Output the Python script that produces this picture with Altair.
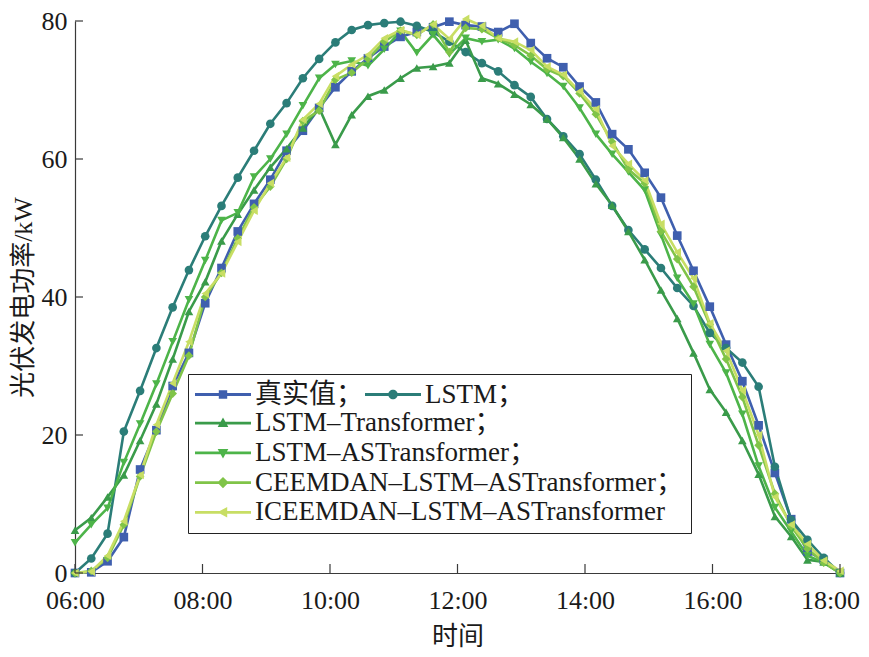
import altair as alt
import pandas as pd

# ---------------- data ----------------
series_names = [
    "真实值",
    "LSTM",
    "LSTM–Transformer",
    "LSTM–ASTransformer",
    "CEEMDAN–LSTM–ASTransformer",
    "ICEEMDAN–LSTM–ASTransformer",
]
series_colors = ["#3f5fae", "#2b7d78", "#3a9b4a", "#4db449", "#80c448", "#c8de64"]
series_shapes = ["square", "circle", "triangle-up", "triangle-down", "diamond", "triangle-left"]

n_points = 48
times = [6 + 12 * i / (n_points - 1) for i in range(n_points)]  # hours, 06:00 .. 18:00

true_vals = [0, 0.1, 1.7, 5.2, 15.0, 20.7, 27.1, 31.9, 39.1, 44.2, 49.5, 53.5, 57.0, 61.2,
             64.1, 67.4, 70.4, 72.7, 74.6, 76.3, 77.7, 78.4, 79.1, 79.9, 79.4, 79.2, 78.4,
             79.6, 76.8, 74.6, 73.3, 70.5, 68.2, 63.6, 61.4, 58.0, 54.4, 48.9, 43.8, 38.6,
             33.1, 27.8, 21.4, 14.5, 7.8, 3.1, 1.9, 0]
lstm_vals = [0, 2.1, 5.7, 20.5, 26.4, 32.6, 38.5, 43.9, 48.8, 53.2, 57.3, 61.2, 65.1, 68.1,
             71.7, 74.5, 76.9, 78.7, 79.4, 79.7, 79.9, 79.3, 78.4, 77.0, 75.5, 73.9, 72.7,
             70.7, 69.0, 65.8, 63.3, 60.7, 57.0, 53.2, 49.7, 46.9, 44.2, 41.3, 38.7, 34.8,
             32.6, 30.5, 27.0, 15.4, 7.7, 4.8, 2.2, 0]
lstm_t_vals = [6.2, 8.0, 11.0, 14.2, 19.2, 24.5, 31.0, 37.9, 42.2, 48.1, 52.0, 55.5, 58.8,
               61.5, 64.5, 67.4, 62.1, 66.4, 69.1, 70.0, 71.7, 73.2, 73.4, 73.9, 77.2, 71.7,
               70.9, 69.4, 67.9, 65.8, 63.1, 60.0, 56.4, 53.3, 49.5, 45.4, 41.0, 36.9, 31.9,
               26.6, 23.3, 19.2, 14.3, 8.2, 5.3, 1.9, 1.6, 0]
lstm_ast_vals = [4.4, 7.0, 9.4, 16.0, 21.6, 27.4, 33.5, 39.6, 45.3, 51.1, 52.2, 57.4, 60.0,
                 63.6, 67.7, 71.7, 73.7, 74.2, 73.5, 75.9, 78.5, 75.4, 78.0, 75.2, 77.5, 77.0,
                 77.3, 76.0, 74.1, 72.4, 70.5, 67.4, 63.6, 60.7, 58.1, 55.5, 49.0, 42.7, 39.0,
                 33.1, 29.0, 23.0, 15.5, 9.5, 6.0, 2.5, 1.5, 0]
ceemdan_vals = [0, 0.3, 2.2, 7.0, 14.0, 20.5, 26.0, 31.5, 40.0, 43.5, 48.5, 53.0, 56.0, 60.0,
                65.5, 67.0, 71.5, 72.5, 74.5, 77.0, 78.6, 78.0, 79.5, 75.5, 79.0, 78.8, 77.5,
                76.5, 75.0, 73.0, 72.0, 69.5, 66.5, 62.5, 58.5, 56.5, 49.5, 45.5, 41.5, 36.0,
                31.0, 25.5, 18.5, 11.5, 6.8, 3.5, 1.5, 0]
iceemdan_vals = [0, 0.2, 2.5, 7.5, 14.2, 21.5, 27.5, 33.5, 40.5, 43.4, 48.0, 52.5, 56.5, 60.2,
                 65.7, 68.0, 72.0, 73.7, 75.1, 77.5, 78.7, 78.0, 79.5, 77.4, 80.3, 79.3, 77.5,
                 77.0, 75.8, 73.4, 72.2, 69.8, 67.2, 61.9, 59.3, 56.9, 50.6, 46.5, 42.7, 36.2,
                 32.2, 26.5, 20.0, 11.0, 7.0, 4.2, 1.8, 0.3]

all_vals = [true_vals, lstm_vals, lstm_t_vals, lstm_ast_vals, ceemdan_vals, iceemdan_vals]

x_ticks = [6, 8, 10, 12, 14, 16, 18]
y_ticks = [0, 20, 40, 60, 80]

rows = []
for name, vals in zip(series_names, all_vals):
    for t, v in zip(times, vals):
        rows.append({"time": t, "power": v, "series": name})
df = pd.DataFrame(rows)

# ---------------- style ----------------
W, H = 765, 552
LATIN = "Liberation Serif, Noto Sans CJK SC"
AXIS_COLOR = "#3a3a3a"
FS = 26
LEG_FS = 27

# legend symbols: a short line with the marker in the middle (unit coordinates)
LINE = "M-1,-0.05H1V0.05H-1Z"
legend_paths = [
    LINE + "M-0.15,-0.15H0.15V0.15H-0.15Z",
    LINE + "M0.17,0A0.17,0.17,0,1,1,-0.17,0A0.17,0.17,0,1,1,0.17,0Z",
    LINE + "M0,-0.2L0.19,0.14H-0.19Z",
    LINE + "M0,0.2L-0.19,-0.14H0.19Z",
    LINE + "M0,-0.2L0.2,0L0,0.2L-0.2,0Z",
    LINE + "M-0.2,0L0.15,-0.19V0.19Z",
]

x_scale = alt.Scale(domain=[6, 18], nice=False, zero=False)
y_scale = alt.Scale(domain=[0, 80], nice=False)

x_axis = alt.Axis(values=x_ticks, title="时间",
                  labelExpr="(datum.value < 10 ? '0' : '') + datum.value + ':00'",
                  labelFlush=False, labelOverlap=False,
                  labelOffset={"condition": {"test": "datum.value == 18", "value": -10}, "value": 0},
                  labelPadding=14, titlePadding=10)
y_axis = alt.Axis(values=y_ticks, title="光伏发电功率/kW", labelFlush=False,
                  labelPadding=8, titlePadding=5)

x_enc = alt.X("time:Q", scale=x_scale, axis=x_axis)
y_enc = alt.Y("power:Q", scale=y_scale, axis=y_axis)

color_all = alt.Color("series:N", scale=alt.Scale(domain=series_names, range=series_colors), legend=None)
shape_all = alt.Shape("series:N", scale=alt.Scale(domain=series_names, range=series_shapes), legend=None)

lines = alt.Chart(df).mark_line(strokeWidth=2.6).encode(x=x_enc, y=y_enc, color=color_all)
points = alt.Chart(df).mark_point(filled=True, size=75, opacity=1).encode(
    x=x_enc, y=y_enc, color=color_all, shape=shape_all
)

# inward tick marks
ytick_df = pd.DataFrame({"power": y_ticks})
xtick_df = pd.DataFrame({"time": x_ticks})
yticks = alt.Chart(ytick_df).mark_rule(color=AXIS_COLOR, strokeWidth=1.2).encode(
    y=y_enc, x=alt.value(0), x2=alt.value(8)
)
xticks = alt.Chart(xtick_df).mark_rule(color=AXIS_COLOR, strokeWidth=1.2).encode(
    x=x_enc, y=alt.value(H - 9), y2=alt.value(H)
)

common_legend = dict(
    orient="none",
    symbolSize=3136,
    symbolStrokeWidth=0,
    symbolOpacity=1,
    clipHeight=LEG_FS,
    labelFont=LATIN,
    labelFontSize=LEG_FS,
    labelColor="#1a1a1a",
    labelOffset=4,
    labelLimit=700,
)

# legend A: first row (two entries side by side)
names_a = series_names[:2]
leg_a = alt.Legend(
    title=None, direction="horizontal", columns=2, columnPadding=2,
    legendX=120, legendY=360, padding=0,
    labelExpr="datum.label + '；'",
    **common_legend,
)
layer_a = alt.Chart(df[df["series"].isin(names_a)]).mark_point(filled=True, opacity=0).encode(
    x=x_enc, y=y_enc,
    color=alt.Color("series:N", scale=alt.Scale(domain=names_a, range=series_colors[:2]), legend=leg_a),
    shape=alt.Shape("series:N", scale=alt.Scale(domain=names_a, range=legend_paths[:2]), legend=leg_a),
)

# legend B: remaining rows, with the framing box
names_b = series_names[2:]
leg_b = alt.Legend(
    title="\u3000", titleFont=LATIN, titleFontSize=LEG_FS, titlePadding=1.7,
    direction="vertical", rowPadding=1.7,
    legendX=113, legendY=353, padding=7,
    strokeColor="#222222", fillColor="white",
    labelExpr="datum.label == 'ICEEMDAN–LSTM–ASTransformer' ? datum.label : datum.label + '；'",
    **common_legend,
)
layer_b = alt.Chart(df[df["series"].isin(names_b)]).mark_point(filled=True, opacity=0).encode(
    x=x_enc, y=y_enc,
    color=alt.Color("series:N", scale=alt.Scale(domain=names_b, range=series_colors[2:]), legend=leg_b),
    shape=alt.Shape("series:N", scale=alt.Scale(domain=names_b, range=legend_paths[2:]), legend=leg_b),
)

chart = (
    alt.layer(lines, points, yticks, xticks, layer_b, layer_a)
    .resolve_scale(color="independent", shape="independent")
    .properties(
        width=W, height=H,
        autosize=alt.AutoSizeParams(type="none"),
        padding={"left": 67, "top": 13, "right": 21, "bottom": 76},
        background="white",
    )
    .configure_view(stroke=None)
    .configure_axis(
        grid=False, ticks=False,
        domainColor=AXIS_COLOR, domainWidth=1.2,
        labelFont=LATIN, labelFontSize=FS, labelColor="#1a1a1a",
        titleFont=LATIN, titleFontSize=FS, titleFontWeight="normal", titleColor="#1a1a1a",
    )
)

chart.save("out.html", embed_options={"renderer": "svg", "actions": False})
